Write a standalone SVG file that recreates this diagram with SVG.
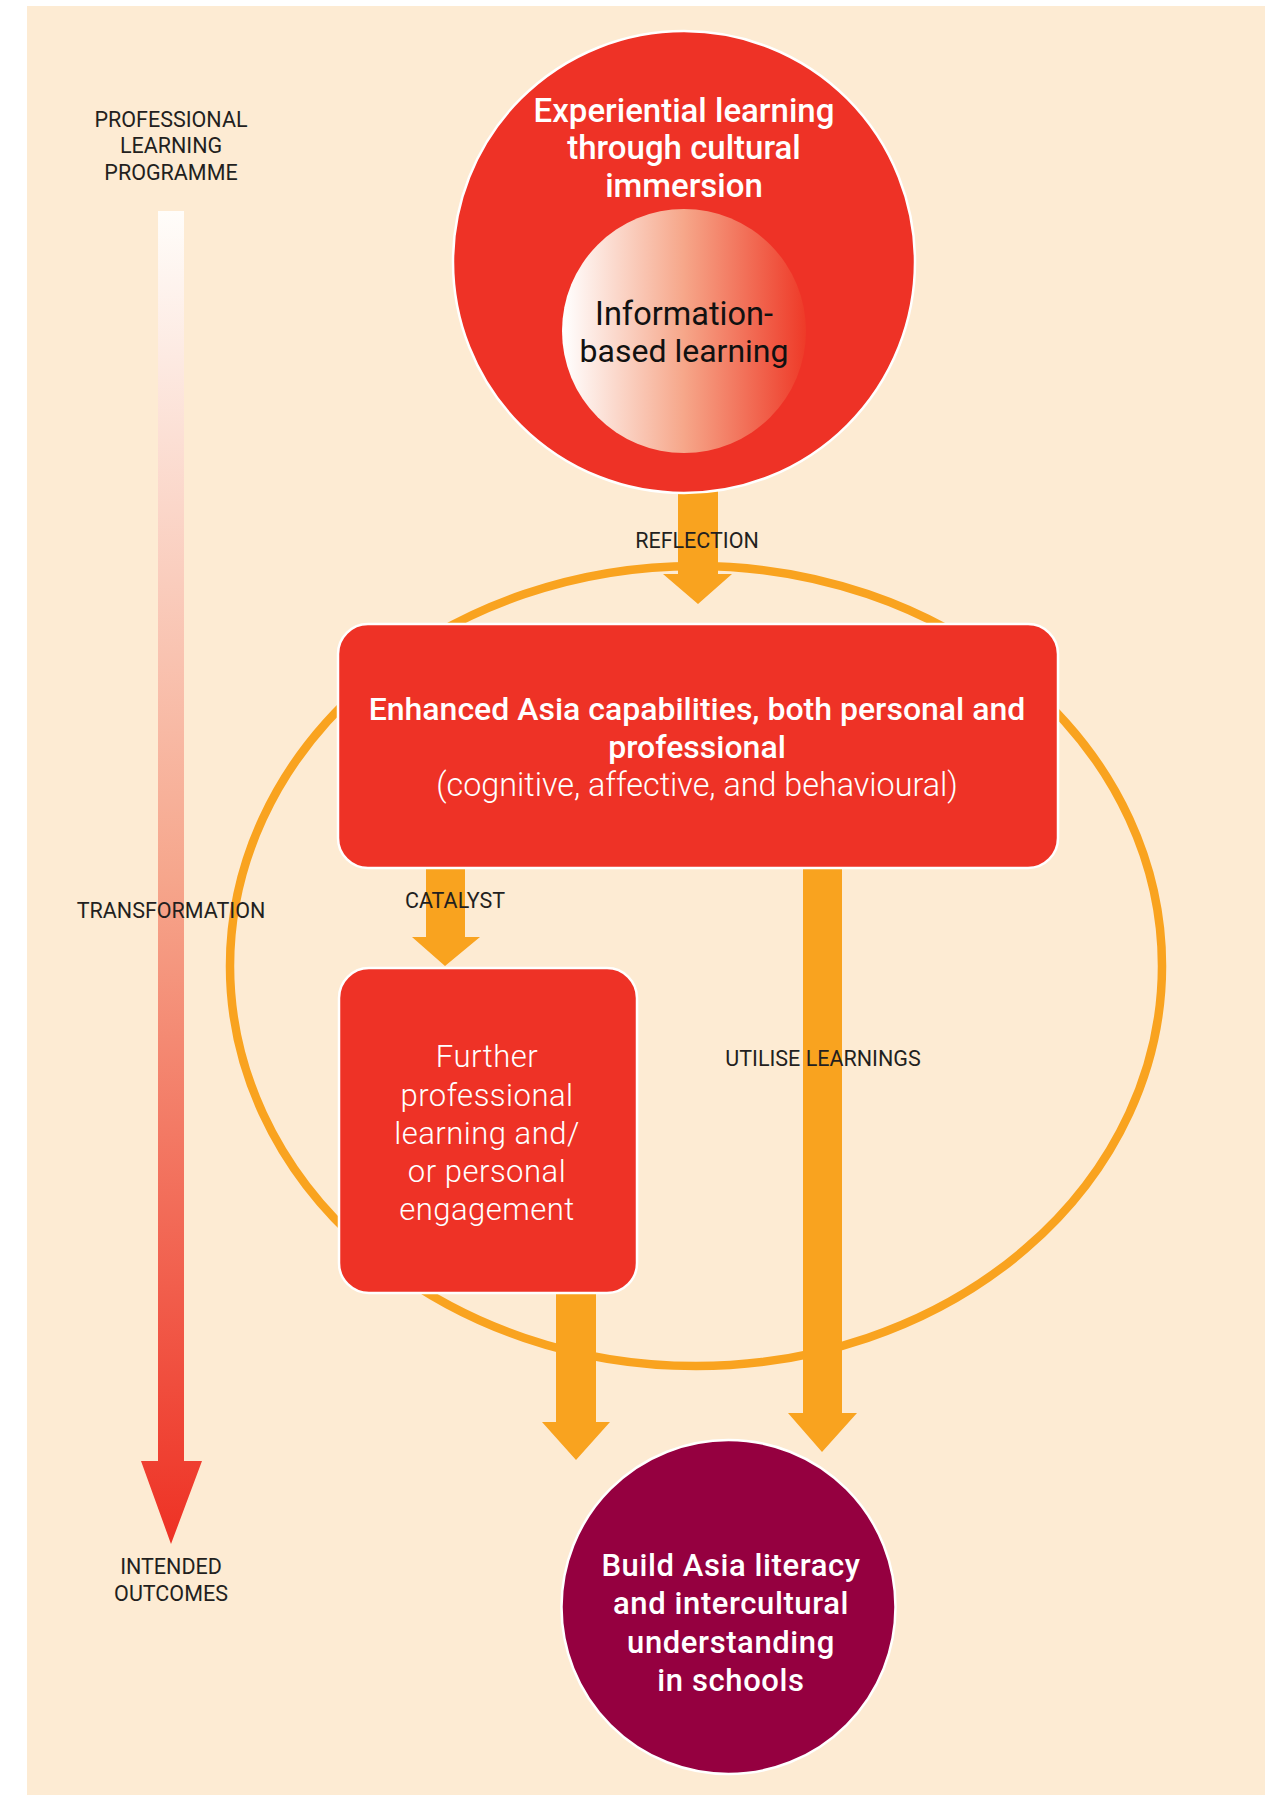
<svg xmlns="http://www.w3.org/2000/svg" width="1278" height="1795" viewBox="0 0 1278 1795">
  <defs>
    <linearGradient id="leftGrad" gradientUnits="userSpaceOnUse" x1="0" y1="211" x2="0" y2="1544">
      <stop offset="0" stop-color="#fffdfa"/>
      <stop offset="0.5" stop-color="#f6a68c"/>
      <stop offset="1" stop-color="#ee3124"/>
    </linearGradient>
    <linearGradient id="innerGrad" gradientUnits="userSpaceOnUse" x1="563" y1="0" x2="806" y2="0">
      <stop offset="0" stop-color="#ffffff"/>
      <stop offset="0.5" stop-color="#f6a689"/>
      <stop offset="1" stop-color="#ee3a28"/>
    </linearGradient>
    <style>
      .lbl { font-family: Roboto, "Liberation Sans", sans-serif; font-size: 21.5px; fill: #231f20; text-anchor: middle; }
      .hd { font-family: Roboto, "Liberation Sans", sans-serif; font-weight: 500; fill: #ffffff; text-anchor: middle; }
      .nm { font-family: Roboto, "Liberation Sans", sans-serif; font-weight: 300; fill: #ffffff; text-anchor: middle; }
      .arrow { fill: #f9a31f; }
      .red { fill: #ee3226; stroke: #ffffff; stroke-width: 2.5; }
    </style>
  </defs>

  <rect x="0" y="0" width="1278" height="1795" fill="#ffffff"/>
  <rect id="background" x="27" y="6" width="1238" height="1789" fill="#fdebd3"/>

  <!-- orange ring -->
  <g id="ring">
    <ellipse cx="696" cy="966" rx="466" ry="400" fill="none" stroke="#f9a31f" stroke-width="8.5"/>
  </g>

  <!-- left programme arrow -->
  <g id="programme-arrow">
    <path d="M158,211 H184 V1461 H202 L171,1544 L141,1461 H158 Z" fill="url(#leftGrad)"/>
    <text class="lbl" x="171" y="126.5">PROFESSIONAL</text>
    <text class="lbl" x="171" y="153">LEARNING</text>
    <text class="lbl" x="171" y="179.5">PROGRAMME</text>
    <text class="lbl" x="171" y="917.5">TRANSFORMATION</text>
    <text class="lbl" x="171" y="1574">INTENDED</text>
    <text class="lbl" x="171" y="1601">OUTCOMES</text>
  </g>

  <!-- connectors -->
  <g id="connectors">
    <path class="arrow" d="M678,490 H718 V574 H732 L698,604 L663,574 H678 Z"/>
    <path class="arrow" d="M426,868 H465 V937 H480 L445,966 L412,937 H426 Z"/>
    <path class="arrow" d="M803,868 H842 V1413 H857 L822,1452 L788,1413 H803 Z"/>
    <path class="arrow" d="M556,1293 H596 V1422 H610 L576,1460 L542,1422 H556 Z"/>
    <text class="lbl" x="697" y="547.5">REFLECTION</text>
    <text class="lbl" x="455" y="908">CATALYST</text>
    <text class="lbl" x="823" y="1066">UTILISE LEARNINGS</text>
  </g>

  <!-- top circle -->
  <g id="experiential">
    <circle class="red" cx="684" cy="262" r="231"/>
    <text class="hd" font-size="33" x="684" y="121.5">Experiential learning</text>
    <text class="hd" font-size="33" x="684" y="159">through cultural</text>
    <text class="hd" font-size="33" x="684" y="196.5">immersion</text>
  </g>

  <g id="information">
    <circle cx="684" cy="331" r="122" fill="url(#innerGrad)"/>
    <text font-family="Roboto, 'Liberation Sans', sans-serif" font-size="32.5" fill="#111111" text-anchor="middle" x="684" y="325">Information-</text>
    <text font-family="Roboto, 'Liberation Sans', sans-serif" font-size="32" fill="#111111" text-anchor="middle" x="684" y="362">based learning</text>
  </g>

  <!-- enhanced box -->
  <g id="enhanced">
    <rect class="red" x="338" y="624" width="720" height="244" rx="30" ry="30"/>
    <text class="hd" font-size="32" x="697" y="720">Enhanced Asia capabilities, both personal and</text>
    <text class="hd" font-size="32" x="697" y="758">professional</text>
    <text class="nm" font-size="32.3" x="697" y="796">(cognitive, affective, and behavioural)</text>
  </g>

  <!-- further box -->
  <g id="further">
    <rect class="red" x="339" y="968" width="298" height="325" rx="30" ry="30"/>
    <text class="nm" font-size="31" letter-spacing="0.5" x="487" y="1067">Further</text>
    <text class="nm" font-size="31" letter-spacing="0.5" x="487" y="1105.5">professional</text>
    <text class="nm" font-size="31" letter-spacing="0.5" x="487" y="1143.5">learning and/</text>
    <text class="nm" font-size="31" letter-spacing="0.5" x="487" y="1182">or personal</text>
    <text class="nm" font-size="31" letter-spacing="0.5" x="487" y="1220">engagement</text>
  </g>

  <!-- outcome circle -->
  <g id="outcome">
    <circle cx="728.5" cy="1607" r="167" fill="#950040" stroke="#ffffff" stroke-width="2.5"/>
    <text class="hd" font-size="31" letter-spacing="0.6" x="731" y="1576">Build Asia literacy</text>
    <text class="hd" font-size="31" letter-spacing="0.6" x="731" y="1614">and intercultural</text>
    <text class="hd" font-size="31" letter-spacing="0.6" x="731" y="1652.5">understanding</text>
    <text class="hd" font-size="31" letter-spacing="0.6" x="731" y="1691">in schools</text>
  </g>
</svg>
